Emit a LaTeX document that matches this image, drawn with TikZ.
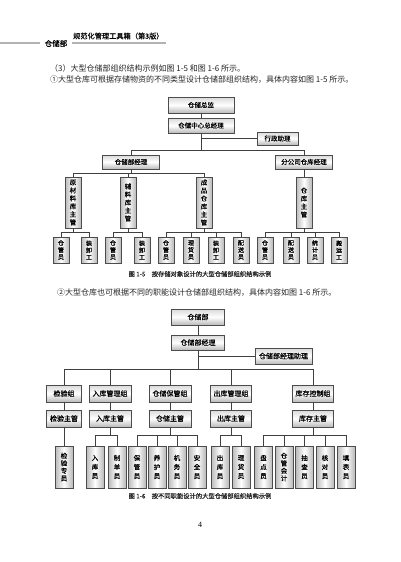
\documentclass[tikz,border=0pt]{standalone}
\usepackage{fontspec}
\setmainfont{Liberation Serif}
\newfontfamily\cjk{Noto Sans CJK SC}
\newfontfamily\cjkb[FakeBold=0.6]{Noto Sans CJK SC}
\usetikzlibrary{shadows}
\tikzset{
  box/.style={draw=black!70, line width=0.45pt, inner sep=0pt,
    drop shadow={shadow xshift=0.7pt, shadow yshift=-0.7pt, fill=black!60, opacity=0.6}},
  hb/.style={box, top color=gray!30, bottom color=gray!55, middle color=white,
    font=\cjkb\fontsize{6.5}{7}\selectfont},
  hbb/.style={hb, font=\cjkb\fontsize{7}{7}\selectfont},
  vb/.style={box, left color=gray!55, right color=gray!55, middle color=white, align=center},
  tallbox/.style={vb, minimum width=16pt, minimum height=51pt, font=\cjkb\fontsize{6.5}{8}\selectfont},
  leafa/.style={vb, minimum width=16pt, minimum height=26pt, font=\cjkb\fontsize{6}{7}\selectfont},
  leafb/.style={vb, minimum width=18pt, minimum height=42pt, font=\cjkb\fontsize{6.5}{9}\selectfont},
  leafc/.style={vb, minimum width=18pt, minimum height=42pt, font=\cjkb\fontsize{6.5}{7.5}\selectfont},
  conn/.style={draw=black!75, line width=0.6pt},
  bodytext/.style={anchor=west, inner sep=0pt, font=\cjk\fontsize{8}{8}\selectfont, text=black!85},
  captext/.style={inner sep=0pt, font=\cjkb\fontsize{6.3}{7}\selectfont, text=black!85},
}
\begin{document}
\begin{tikzpicture}[x=1pt,y=-1pt]
\useasboundingbox (0,0) rectangle (400,562);
\fill[white] (0,0) rectangle (400,562);

% header
\draw[gray!60, line width=2.2pt] (0,43) -- (40,43);
\node[inner sep=0pt, font=\cjkb\fontsize{7.5}{8}\selectfont] (hd1) at (56,43.5) {仓储部};
\draw[gray!60, line width=1.6pt] (72,43) -- (166,43);
\node[inner sep=0pt, anchor=west, font=\cjkb\fontsize{7.2}{8}\selectfont] (hd2) at (73,36) {规范化管理工具箱（第3版）};

\node[bodytext] (t1) at (50,68) {（3）大型仓储部组织结构示例如图 1-5 和图 1-6 所示。};
\node[bodytext] (t2) at (50,80) {①大型仓库可根据存储物资的不同类型设计仓储部组织结构，具体内容如图 1-5 所示。};

% chart 1
\node[hb, minimum width=66pt, minimum height=16pt] (zj) at (201,105) {仓储总监};
\node[hb, minimum width=66pt, minimum height=15pt] (zjl) at (201,125.5) {仓储中心总经理};
\node[hb, minimum width=41pt, minimum height=13pt] (xz) at (277.5,138.5) {行政助理};
\node[hb, minimum width=57pt, minimum height=14pt] (ccb) at (131,162) {仓储部经理};
\node[hb, minimum width=57pt, minimum height=14pt] (fgs) at (304,162) {分公司仓库经理};

\node[tallbox] (ycl) at (73,202.5) {原\\材\\料\\库\\主\\管};
\node[tallbox] (fl) at (128,202.5) {辅\\料\\库\\主\\管};
\node[tallbox] (cp) at (204,202.5) {成\\品\\仓\\库\\主\\管};
\node[tallbox] (ck) at (304,202.5) {仓\\库\\主\\管};

\node[leafa] (a1) at (61,250) {仓\\管\\员};
\node[leafa] (a2) at (89,250) {装\\卸\\工};
\node[leafa] (a3) at (113,250) {仓\\管\\员};
\node[leafa] (a4) at (142,250) {装\\卸\\工};
\node[leafa] (a5) at (166,250) {仓\\管\\员};
\node[leafa] (a6) at (191,250) {理\\货\\员};
\node[leafa] (a7) at (216,250) {装\\卸\\工};
\node[leafa] (a8) at (241,250) {配\\送\\员};
\node[leafa] (a9) at (265,250) {仓\\管\\员};
\node[leafa] (a10) at (291,250) {配\\送\\员};
\node[leafa] (a11) at (315,250) {统\\计\\员};
\node[leafa] (a12) at (339,250) {搬\\运\\工};

\coordinate (bus1) at (0,150);
\coordinate (bus2) at (0,173.5);
\coordinate (bus3) at (0,232);

\draw[conn] (zj) -- (zjl);
\draw[conn] (zjl.south |- xz) -- (xz.west);
\draw[conn] (zjl.south) -- (zjl.south |- bus1);
\draw[conn] (ccb.north) |- (bus1 -| fgs.north) -- (fgs.north);
\draw[conn] (ccb.south) -- (ccb.south |- bus2);
\draw[conn] (ycl.north) |- (bus2 -| cp.north) -- (cp.north);
\draw[conn] (fl.north) -- (fl.north |- bus2);
\draw[conn] (fgs) -- (ck);

\draw[conn] (ycl.south) -- (ycl.south |- bus3);
\draw[conn] (a1.north) |- (bus3 -| a2.north) -- (a2.north);
\draw[conn] (fl.south) -- (fl.south |- bus3);
\draw[conn] (a3.north) |- (bus3 -| a4.north) -- (a4.north);
\draw[conn] (cp.south) -- (cp.south |- bus3);
\draw[conn] (a5.north) |- (bus3 -| a8.north) -- (a8.north);
\foreach \n in {a6,a7} \draw[conn] (\n.north) -- (\n.north |- bus3);
\draw[conn] (ck.south) -- (ck.south |- bus3);
\draw[conn] (a9.north) |- (bus3 -| a12.north) -- (a12.north);
\foreach \n in {a10,a11} \draw[conn] (\n.north) -- (\n.north |- bus3);

\node[captext] (cap1) at (200,274) {图 1-5\quad 按存储对象设计的大型仓储部组织结构示例};

\node[bodytext] (t3) at (57,293) {②大型仓库也可根据不同的职能设计仓储部组织结构，具体内容如图 1-6 所示。};

% chart 2
\node[hbb, minimum width=53pt, minimum height=16pt] (bu) at (198,317) {仓储部};
\node[hbb, minimum width=53pt, minimum height=15pt] (bujl) at (198,342.5) {仓储部经理};
\node[hbb, minimum width=57pt, minimum height=16pt] (zl) at (283.5,356) {仓储部经理助理};

\node[hbb, minimum width=35pt, minimum height=17pt] (g1) at (64,393.5) {检验组};
\node[hbb, minimum width=42pt, minimum height=17pt] (g2) at (110,393.5) {入库管理组};
\node[hbb, minimum width=42pt, minimum height=17pt] (g3) at (170,393.5) {仓储保管组};
\node[hbb, minimum width=41pt, minimum height=17pt] (g4) at (231,393.5) {出库管理组};
\node[hbb, minimum width=41pt, minimum height=17pt] (g5) at (313,393.5) {库存控制组};

\node[hbb, minimum width=35pt, minimum height=17pt] (s1) at (64,418.5) {检验主管};
\node[hbb, minimum width=42pt, minimum height=17pt] (s2) at (110,418.5) {入库主管};
\node[hbb, minimum width=42pt, minimum height=17pt] (s3) at (170,418.5) {仓储主管};
\node[hbb, minimum width=41pt, minimum height=17pt] (s4) at (231,418.5) {出库主管};
\node[hbb, minimum width=41pt, minimum height=17pt] (s5) at (313,418.5) {库存主管};

\node[leafc] (e1) at (64,467) {检\\验\\专\\员};
\node[leafb] (e2) at (95,467) {入\\库\\员};
\node[leafb] (e3) at (117,467) {制\\单\\员};
\node[leafb] (e4) at (137,467) {保\\管\\员};
\node[leafb] (e5) at (157,467) {养\\护\\员};
\node[leafb] (e6) at (177,467) {机\\务\\员};
\node[leafb] (e7) at (197,467) {安\\全\\员};
\node[leafb] (e8) at (220,467) {出\\库\\员};
\node[leafb] (e9) at (241,467) {理\\货\\员};
\node[leafb] (e10) at (263.5,467) {盘\\点\\员};
\node[leafc] (e11) at (284,467) {仓\\管\\会\\计};
\node[leafb] (e12) at (304.5,467) {抽\\查\\员};
\node[leafb] (e13) at (325,467) {核\\对\\员};
\node[leafb] (e14) at (346,467) {填\\表\\员};

\coordinate (bus4) at (0,369);
\coordinate (bus5) at (0,435);

\draw[conn] (bu) -- (bujl);
\draw[conn] (bujl.south |- zl) -- (zl.west);
\draw[conn] (bujl.south) -- (bujl.south |- bus4);
\draw[conn] (g1.north) |- (bus4 -| g5.north) -- (g5.north);
\foreach \n in {g2,g3,g4} \draw[conn] (\n.north) -- (\n.north |- bus4);
\draw[conn] (g1) -- (s1);
\draw[conn] (g2) -- (s2);
\draw[conn] (g3) -- (s3);
\draw[conn] (g4) -- (s4);
\draw[conn] (g5) -- (s5);
\draw[conn] (s1) -- (e1);
\draw[conn] (s2.south) -- (s2.south |- bus5);
\draw[conn] (e2.north) |- (bus5 -| e3.north) -- (e3.north);
\draw[conn] (s3.south) -- (s3.south |- bus5);
\draw[conn] (e4.north) |- (bus5 -| e7.north) -- (e7.north);
\foreach \n in {e5,e6} \draw[conn] (\n.north) -- (\n.north |- bus5);
\draw[conn] (s4.south) -- (s4.south |- bus5);
\draw[conn] (e8.north) |- (bus5 -| e9.north) -- (e9.north);
\draw[conn] (s5.south) -- (s5.south |- bus5);
\draw[conn] (e10.north) |- (bus5 -| e14.north) -- (e14.north);
\foreach \n in {e11,e12,e13} \draw[conn] (\n.north) -- (\n.north |- bus5);

\node[captext] (cap2) at (200,496) {图 1-6\quad 按不同职能设计的大型仓储部组织结构示例};

\node[inner sep=0pt, font=\fontsize{8}{8}\selectfont] (pg) at (200,525) {4};
\end{tikzpicture}
\end{document}
